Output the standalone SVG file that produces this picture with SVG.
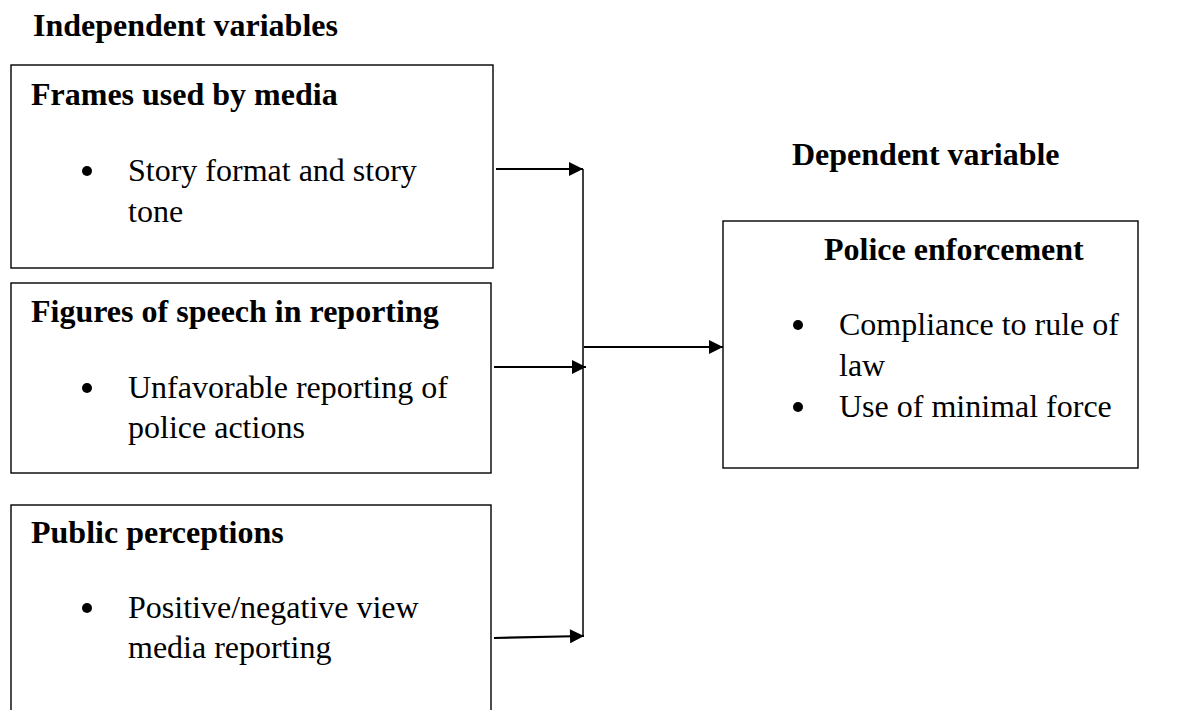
<svg xmlns="http://www.w3.org/2000/svg" width="1187" height="710" viewBox="0 0 1187 710">
<style>
.box{fill:#fff;stroke:#000;stroke-width:1.4}
.h{font-family:"Liberation Serif","Times New Roman",serif;font-size:32px;font-weight:bold;fill:#000}
.t{font-family:"Liberation Serif","Times New Roman",serif;font-size:32px;fill:#000}
.dot{fill:#000}
.ln{stroke:#000;stroke-width:2.2;fill:none}
.vl{stroke:#000;stroke-width:1.5;fill:none}
</style>
<defs>
<marker id="ah" viewBox="0 0 10 10" refX="10" refY="5" markerWidth="15" markerHeight="14" markerUnits="userSpaceOnUse" orient="auto">
<path d="M0,0 L10,5 L0,10 Z" fill="#000"/>
</marker>
</defs>
<rect width="1187" height="710" fill="#fff"/>
<text class="h" x="33" y="36">Independent variables</text>
<text class="h" x="792" y="165">Dependent variable</text>
<g id="frames">
<rect class="box" x="11" y="65" width="482" height="203"/>
<text class="h" x="31" y="105">Frames used by media</text>
<circle class="dot" cx="87" cy="171" r="5"/>
<text class="t" x="128" y="181">Story format and story</text>
<text class="t" x="128" y="222">tone</text>
</g>
<g id="figures">
<rect class="box" x="11" y="283" width="480" height="190"/>
<text class="h" x="31" y="322">Figures of speech in reporting</text>
<circle class="dot" cx="87" cy="388" r="5"/>
<text class="t" x="128" y="398">Unfavorable reporting of</text>
<text class="t" x="128" y="438">police actions</text>
</g>
<g id="public">
<rect class="box" x="11" y="505" width="480" height="220"/>
<text class="h" x="31" y="543">Public perceptions</text>
<circle class="dot" cx="87" cy="608" r="5"/>
<text class="t" x="128" y="618">Positive/negative view</text>
<text class="t" x="128" y="658">media reporting</text>
</g>
<g id="police">
<rect class="box" x="723" y="221" width="415" height="247"/>
<text class="h" x="824" y="260">Police enforcement</text>
<circle class="dot" cx="798" cy="325" r="5"/>
<text class="t" x="839" y="335">Compliance to rule of</text>
<text class="t" x="839" y="376">law</text>
<circle class="dot" cx="798" cy="407" r="5"/>
<text class="t" x="839" y="417">Use of minimal force</text>
</g>
<g id="connectors">
<line class="vl" x1="583" y1="169" x2="583" y2="637"/>
<line class="ln" x1="496" y1="169" x2="583" y2="169" marker-end="url(#ah)"/>
<line class="ln" x1="494" y1="367" x2="586" y2="367" marker-end="url(#ah)"/>
<line class="ln" x1="494" y1="638" x2="584" y2="636" marker-end="url(#ah)"/>
<line class="ln" x1="584" y1="347" x2="723" y2="347" marker-end="url(#ah)"/>
</g>
</svg>
